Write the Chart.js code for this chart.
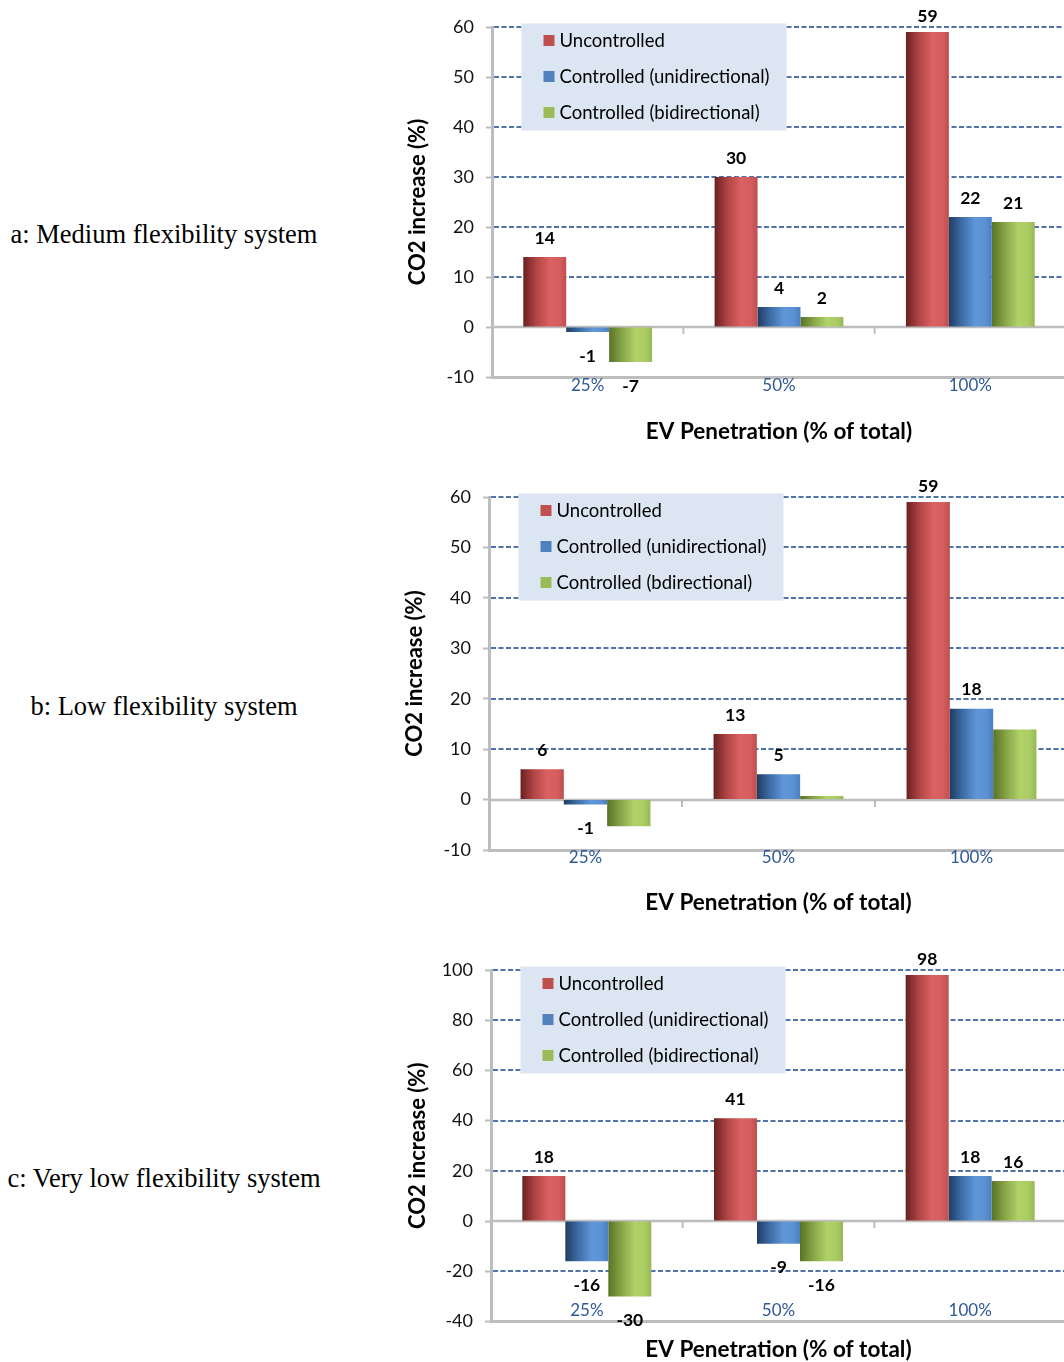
<!DOCTYPE html>
<html>
<head>
<meta charset="utf-8">
<script src="https://cdn.jsdelivr.net/npm/chart.js@4.4.1/dist/chart.umd.min.js"></script>
<style>
  html, body { margin: 0; padding: 0; background: #fff; }
  body { position: relative; width: 1064px; height: 1362px; overflow: hidden; }
  .panel-label {
    position: absolute; left: 0; width: 328px; text-align: center;
    font-family: "Liberation Serif", "Times New Roman", serif; font-size: 26.5px;
    color: #000; line-height: 30px; transform: translateY(-50%); white-space: nowrap;
  }
  .chart-box { position: absolute; left: 400px; }
  canvas { display: block; }
</style>
</head>
<body>
<div class="panel-label" style="top:234px">a: Medium flexibility system</div>
<div class="panel-label" style="top:706px">b: Low flexibility system</div>
<div class="panel-label" style="top:1178px">c: Very low flexibility system</div>

<div class="chart-box" style="top:0px"><canvas id="medium" width="680" height="470"></canvas></div>
<div class="chart-box" style="top:470px"><canvas id="low" width="680" height="470"></canvas></div>
<div class="chart-box" style="top:940px"><canvas id="veryLow" width="680" height="422"></canvas></div>

<script>
// EV penetration levels (x categories)
const categories = ['25%', '50%', '100%'];

// Series names
const seriesNames = ['Uncontrolled', 'Controlled (unidirectional)', 'Controlled (bidirectional)'];
const seriesNamesLow = ['Uncontrolled', 'Controlled (unidirectional)', 'Controlled (bdirectional)'];

// a: Medium flexibility system — CO2 increase (%)
const mediumUncontrolled    = [14, 30, 59];
const mediumUnidirectional  = [-1, 4, 22];
const mediumBidirectional   = [-7, 2, 21];

// b: Low flexibility system — CO2 increase (%)
const lowUncontrolled       = [6, 13, 59];
const lowUnidirectional     = [-1, 5, 18];
const lowBidirectional      = [-5.3, 0.7, 13.9];

// c: Very low flexibility system — CO2 increase (%)
const veryLowUncontrolled   = [18, 41, 98];
const veryLowUnidirectional = [-16, -9, 18];
const veryLowBidirectional  = [-30, -16, 16];

// Y-axis ranges / tick steps
const mediumTicks  = { min: -10, max: 60,  step: 10 };
const lowTicks     = { min: -10, max: 60,  step: 10 };
const veryLowTicks = { min: -40, max: 100, step: 20 };

// ---- styling ----
const FONT = 'Lato, "Open Sans", sans-serif';
Chart.defaults.font.family = FONT;
const AXIS = '#bdbdbd';
const GRID = '#4f73aa';
const CAT_COLOR = '#2f5897';
const SWATCH = ['#c0504d', '#4f81bd', '#9bbb59'];
const SHADES = [
  [[0, '#6a2020'], [0.3, '#b04444'], [0.62, '#da6262'], [0.85, '#d55d5d'], [1, '#bd4f4f']],
  [[0, '#1f3d63'], [0.3, '#3d6ca6'], [0.62, '#5f97d9'], [0.85, '#5a91d3'], [1, '#4a7fc0']],
  [[0, '#5a7226'], [0.3, '#86a446'], [0.62, '#b1d169'], [0.85, '#abcb63'], [1, '#97b755']]
];

function line(ctx, x1, y1, x2, y2) {
  ctx.beginPath(); ctx.moveTo(x1, y1); ctx.lineTo(x2, y2); ctx.stroke();
}

// Dashed grid, zero axis with category ticks, legend panel and shaded bar fills
const decorPlugin = {
  id: 'decor',
  beforeDatasetsDraw(chart) {
    const { ctx, chartArea: a, scales: { x, y } } = chart;
    ctx.save();
    // dashed horizontal gridlines
    ctx.strokeStyle = GRID; ctx.lineWidth = 2; ctx.setLineDash([5, 2.5]);
    y.ticks.forEach(t => {
      if (t.value === 0 || t.value === y.min) return;
      const py = Math.round(y.getPixelForValue(t.value));
      line(ctx, a.left + 2, py, a.right, py);
    });
    ctx.setLineDash([]);
    // zero axis
    const z = Math.round(y.getPixelForValue(0));
    ctx.strokeStyle = AXIS; ctx.lineWidth = 2.5;
    line(ctx, a.left, z, a.right, z);
    const n = x.ticks.length;
    for (let i = 0; i <= n; i++) {
      let px;
      if (i === 0) px = a.left;
      else if (i === n) px = a.right;
      else px = (x.getPixelForTick(i - 1) + x.getPixelForTick(i)) / 2;
      ctx.lineWidth = 2;
      line(ctx, px, z, px, z + 7);
    }
    // legend panel
    const bx = a.left + 29.5, by = a.top - 3.5, bw = 265, bh = 107;
    ctx.fillStyle = '#dce6f2';
    ctx.fillRect(bx, by, bw, bh);
    ctx.font = '18.5px ' + FONT;
    ctx.textBaseline = 'middle'; ctx.textAlign = 'left';
    chart.data.datasets.forEach((ds, i) => {
      const ry = by + 17 + i * 36;
      ctx.fillStyle = SWATCH[i];
      ctx.fillRect(bx + 22, ry - 5.5, 11, 11);
      ctx.fillStyle = '#000';
      ctx.fillText(ds.label, bx + 38, ry + 0.5);
    });
    ctx.restore();

    // shaded fills across each bar
    chart.data.datasets.forEach((ds, di) => {
      chart.getDatasetMeta(di).data.forEach(el => {
        const { x: cx, width } = el.getProps(['x', 'width'], true);
        const g = ctx.createLinearGradient(cx - width / 2, 0, cx + width / 2, 0);
        SHADES[di].forEach(([s, c]) => g.addColorStop(s, c));
        el.options.backgroundColor = g;
      });
    });
  },
  afterDatasetsDraw(chart, args, opts) {
    const { ctx, chartArea: a } = chart;
    const hidden = opts.hideLabels || [];
    ctx.save();
    ctx.font = 'bold 17.5px ' + FONT;
    ctx.fillStyle = '#000'; ctx.textAlign = 'center'; ctx.textBaseline = 'middle';
    chart.data.datasets.forEach((ds, di) => {
      if (hidden.includes(di)) return;
      chart.getDatasetMeta(di).data.forEach((el, i) => {
        const v = ds.data[i];
        const { x: cx, y: cy } = el.getProps(['x', 'y'], true);
        let ly = v >= 0 ? cy - 19 : cy + 24;
        ly = Math.max(ly, a.top - 11);
        ctx.fillText(String(Math.round(v)), cx, ly);
      });
    });
    ctx.restore();
  }
};

function makeChart(id, names, series, ticks, geo) {
  return new Chart(document.getElementById(id), {
    type: 'bar',
    data: {
      labels: categories,
      datasets: series.map((vals, i) => ({
        label: names[i],
        data: vals,
        backgroundColor: c => SWATCH[c.datasetIndex],
        borderWidth: 0,
        categoryPercentage: 0.673,
        barPercentage: 1
      }))
    },
    options: {
      responsive: false,
      animation: false,
      devicePixelRatio: 1,
      layout: { padding: { top: geo.top, right: geo.right, left: 0, bottom: 0 } },
      plugins: {
        legend: { display: false },
        tooltip: { enabled: false },
        decor: { hideLabels: geo.hideLabels || [] }
      },
      scales: {
        x: {
          grid: { display: false },
          border: { display: true, color: AXIS, width: 3 },
          ticks: { font: { size: 17 }, color: CAT_COLOR, padding: geo.xTickPad, mirror: !!geo.xMirror },
          title: {
            display: true, text: 'EV Penetration (% of total)', color: '#000',
            font: { size: 22.5, weight: 'bold' }, padding: { top: 0, bottom: geo.xTitlePad }
          },
          afterFit(s) { s.height = geo.xHeight; }
        },
        y: {
          min: ticks.min, max: ticks.max,
          ticks: { stepSize: ticks.step, font: { size: 18 }, color: '#111', padding: 12 },
          grid: { drawOnChartArea: false, drawTicks: true, tickLength: 6, tickColor: AXIS, tickWidth: 2 },
          border: { display: true, color: AXIS, width: 3 },
          title: {
            display: true, text: 'CO2 increase (%)', color: '#000',
            font: { size: 22, weight: 'bold' }, padding: { top: geo.yTitlePad, bottom: 0 }
          },
          afterFit(s) { s.width = geo.left; }
        }
      }
    },
    plugins: [decorPlugin]
  });
}

makeChart('medium', seriesNames,
  [mediumUncontrolled, mediumUnidirectional, mediumBidirectional], mediumTicks,
  { left: 92, top: 27, right: 14, xHeight: 93, xTickPad: -10, xTitlePad: 25, yTitlePad: 5 });

makeChart('low', seriesNamesLow,
  [lowUncontrolled, lowUnidirectional, lowBidirectional], lowTicks,
  { left: 89, top: 27, right: 12, xHeight: 90, xTickPad: -11, xTitlePad: 24, yTitlePad: 2, hideLabels: [2] });

makeChart('veryLow', seriesNames,
  [veryLowUncontrolled, veryLowUnidirectional, veryLowBidirectional], veryLowTicks,
  { left: 91, top: 30, right: 14, xHeight: 40.5, xTickPad: 1, xMirror: true, xTitlePad: -1, yTitlePad: 5 });
</script>
</body>
</html>
